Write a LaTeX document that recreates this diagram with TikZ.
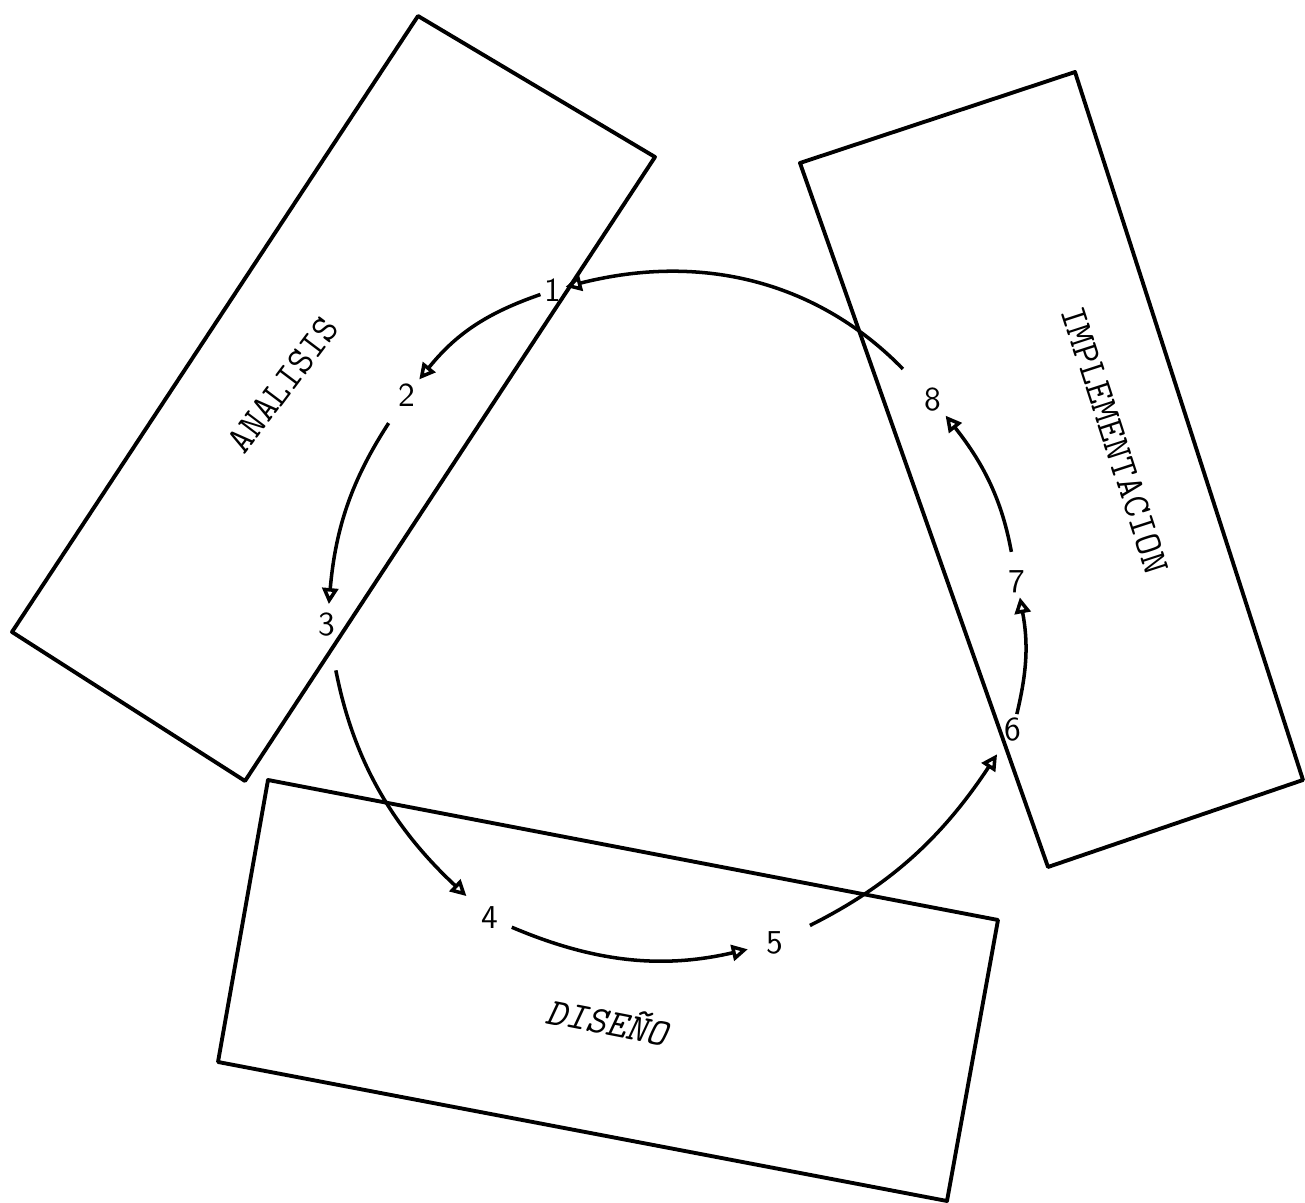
\documentclass[tikz,border=0pt]{standalone}
\usepackage{fontspec}
\usetikzlibrary{arrows.meta}
\begin{document}
\begin{tikzpicture}[x=0.01cm, y=0.01cm,
    num/.style={font=\sffamily\fontsize{9.5}{11}\selectfont, inner sep=1pt},
    phase/.style={font=\ttfamily\fontsize{11}{13}\selectfont},
    box/.style={line width=1.1pt, line join=round},
    link/.style={line width=1pt, -{Triangle[open, length=1.6mm, width=1.6mm]}}]
  \useasboundingbox (0,0) rectangle (1305,1203);
  % analisis
  \draw[box] (418,1187) -- (655,1046) -- (245,422) -- (12,571) -- cycle;
  \node[phase, rotate=53] (analisis) at (283,818) {ANALISIS};
  % implementacion
  \draw[box] (800,1040) -- (1075,1131) -- (1303,423) -- (1048,336) -- cycle;
  \node[phase, rotate=-72] (implem) at (1115,763) {IMPLEMENTACION};
  % diseno
  \draw[box] (268,423) -- (998,283) -- (947,2) -- (218,141) -- cycle;
  \node[phase, font=\ttfamily\itshape\fontsize{11}{13}\selectfont, rotate=-11] (diseno) at (607,183) {DISEÑO};
  % steps
  \node[num] (n1) at (553,913) {1};
  \node[num] (n2) at (407,808) {2};
  \node[num] (n3) at (327,578) {3};
  \node[num] (n4) at (490,285) {4};
  \node[num] (n5) at (775,260) {5};
  \node[num] (n6) at (1013,473) {6};
  \node[num] (n7) at (1017,621) {7};
  \node[num] (n8) at (933,803) {8};
  % cycle
  \draw[link] (n1) to[bend right=16] (n2);
  \draw[link, shorten <=1.5mm, shorten >=0.5mm] (n2) to[bend right=14] (n3);
  \draw[link, shorten <=3mm, shorten >=1.5mm] (n3) to[bend right=18] (n4);
  \draw[link, shorten <=1mm, shorten >=1.5mm] (n4) to[bend right=18] (n5);
  \draw[link, shorten <=2.5mm, shorten >=1mm] (n5) to[bend right=15] (n6);
  \draw[link] (n6) to[bend right=12] (n7);
  \draw[link, shorten <=1.5mm] (n7) to[bend right=14] (n8);
  \draw[link, shorten <=2.5mm] (n8) to[bend right=30] (n1);
\end{tikzpicture}
\end{document}
